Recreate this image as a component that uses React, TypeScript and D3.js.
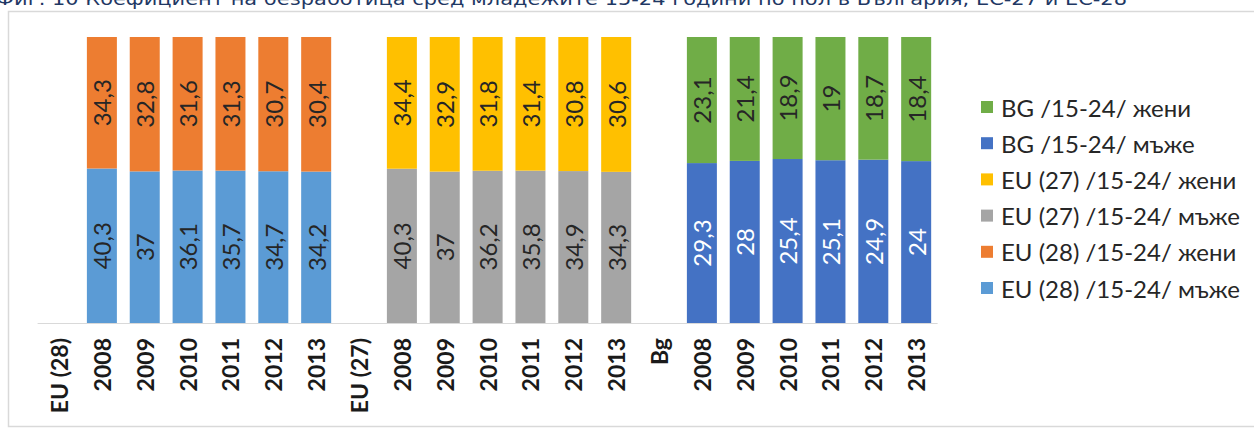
import React from 'react';
import * as d3 from 'd3';

const groups = ['EU (28)', 'EU (27)', 'Bg'];
const years = ['2008', '2009', '2010', '2011', '2012', '2013'];

const eu28Men = [40.3, 37, 36.1, 35.7, 34.7, 34.2];
const eu28Women = [34.3, 32.8, 31.6, 31.3, 30.7, 30.4];
const eu27Men = [40.3, 37, 36.2, 35.8, 34.9, 34.3];
const eu27Women = [34.4, 32.9, 31.8, 31.4, 30.8, 30.6];
const bgMen = [29.3, 28, 25.4, 25.1, 24.9, 24];
const bgWomen = [23.1, 21.4, 18.9, 19, 18.7, 18.4];

const title = 'Фиг. 10 Коефициент на безработица сред младежите 15-24 години по пол в България, ЕС-27 и ЕС-28';

// men on the bottom, women on top
const groupSeries = [
  {men: eu28Men, women: eu28Women, menColor: '#5B9BD5', womenColor: '#ED7D31', menText: '#262626'},
  {men: eu27Men, women: eu27Women, menColor: '#A5A5A5', womenColor: '#FFC000', menText: '#262626'},
  {men: bgMen, women: bgWomen, menColor: '#4472C4', womenColor: '#70AD47', menText: '#ffffff'},
];

const legendItems = [
  {label: 'BG /15-24/ жени', color: '#70AD47'},
  {label: 'BG /15-24/ мъже', color: '#4472C4'},
  {label: 'EU (27) /15-24/ жени', color: '#FFC000'},
  {label: 'EU (27) /15-24/ мъже', color: '#A5A5A5'},
  {label: 'EU (28) /15-24/ жени', color: '#ED7D31'},
  {label: 'EU (28) /15-24/ мъже', color: '#5B9BD5'},
];

const W = 1254;
const H = 430;
const font = 'Lato, "Noto Sans", sans-serif';
const fmt = (v: number) => String(v).replace('.', ',');

export default function App() {
  const cats: {key: string; label: string; g: number; i: number}[] = [];
  groups.forEach((g, gi) => {
    cats.push({key: g, label: g, g: gi, i: -1});
    years.forEach((y, i) => cats.push({key: `${g}|${y}`, label: y, g: gi, i}));
  });

  const x = d3.scaleBand()
    .domain(cats.map((c) => c.key))
    .range([37.6, 937.6])
    .paddingInner(0.3)
    .paddingOuter(0.15);

  const y = d3.scaleLinear().domain([0, 1]).range([323, 37]);

  const legendY = d3.scaleLinear().domain([0, 5]).range([107, 288]);

  const bars = cats.filter((c) => c.i >= 0).map((c) => {
    const s = groupSeries[c.g];
    const m = s.men[c.i];
    const w = s.women[c.i];
    const t = m + w;
    return {c, s, m, w, mFrac: m / t};
  });

  return (
    <svg width={W} height={H} style={{position: 'absolute', left: 0, top: 0}} fontFamily={font}>
      <rect x={0} y={0} width={W} height={H} fill="#fff" />
      <text x={-4} y={5} fontSize={18} fill="#1F3864" textLength={1131} lengthAdjust="spacingAndGlyphs"
        fontFamily='Verdana, "DejaVu Sans", sans-serif'>{title}</text>
      <rect x={8.5} y={11.5} width={W + 10} height={415} fill="none" stroke="#d9d9d9" strokeWidth={1.5} />

      {bars.map(({c, s, m, w, mFrac}) => {
        const bx = x(c.key)!;
        const bw = x.bandwidth();
        const cx = bx + bw / 2;
        const yMid = y(mFrac);
        return (
          <g key={c.key}>
            <rect x={bx} y={yMid} width={bw} height={y(0) - yMid} fill={s.menColor} />
            <rect x={bx} y={y(1)} width={bw} height={yMid - y(1)} fill={s.womenColor} />
            <text transform={`translate(${cx},${(y(0) + yMid) / 2}) rotate(-90)`} textAnchor="middle"
              dominantBaseline="central" fontSize={24} fill={s.menText}>{fmt(m)}</text>
            <text transform={`translate(${cx},${(y(1) + yMid) / 2}) rotate(-90)`} textAnchor="middle"
              dominantBaseline="central" fontSize={24} fill="#262626">{fmt(w)}</text>
          </g>
        );
      })}

      <line x1={37.6} x2={937.6} y1={323.5} y2={323.5} stroke="#d9d9d9" strokeWidth={1} />

      {cats.map((c) => (
        <text key={c.key} transform={`translate(${x(c.key)! + x.bandwidth() / 2},338) rotate(-90)`}
          textAnchor="end" dominantBaseline="central" fontSize={23} fontWeight="bold" fill="#1a1a1a">
          {c.label}
        </text>
      ))}

      {legendItems.map((d, i) => (
        <g key={d.label} transform={`translate(981,${legendY(i)})`}>
          <rect x={0} y={-6} width={12} height={12} fill={d.color} />
          <text x={20} y={0} dominantBaseline="central" fontSize={24} fill="#262626">{d.label}</text>
        </g>
      ))}
    </svg>
  );
}
